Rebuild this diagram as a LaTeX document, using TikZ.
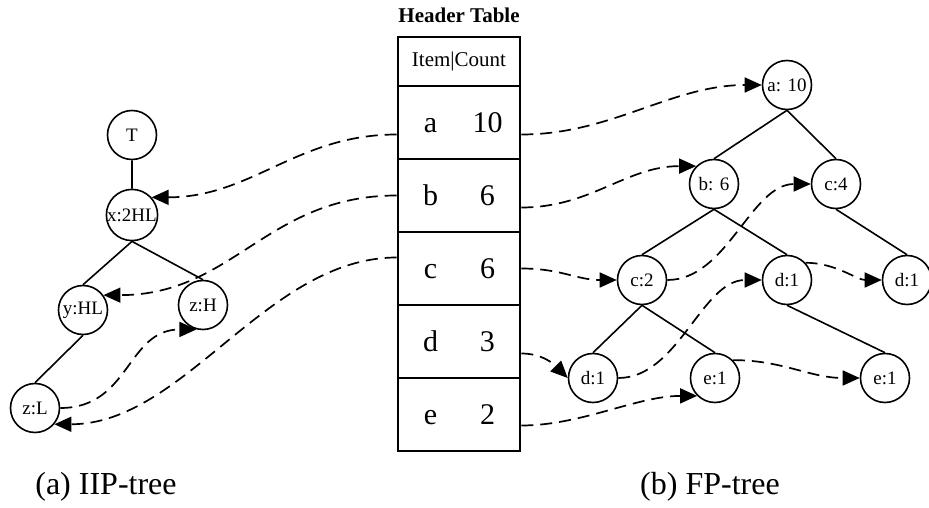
\documentclass[tikz,border=0pt]{standalone}
\usepackage{fontspec}
\setmainfont{Liberation Serif}
\usetikzlibrary{arrows.meta,calc}
\newcommand\htrow[2]{\makebox[20pt]{#1}\hspace{37pt}\makebox[20pt]{#2}\hspace{11pt}}
\begin{document}
\begin{tikzpicture}[x=1pt,y=-1pt,
        knot/.style={circle,draw,line width=1.6pt,minimum size=49pt,inner sep=0pt,font=\fontsize{19}{19}\selectfont},
        cell/.style={rectangle,draw,line width=2.6pt,minimum width=122pt,minimum height=73pt,inner sep=0pt,font=\fontsize{30}{30}\selectfont},
        link/.style={line width=1.7pt,dash pattern=on 12pt off 7pt,-{Triangle[length=17pt,width=15pt]}}]
        \useasboundingbox (0,0) rectangle (929,508);
        % header table
        \node[font=\bfseries\fontsize{21}{21}\selectfont] (title) at (459,15) {Header Table};
        \node[cell,minimum height=49pt,font=\fontsize{21}{21}\selectfont] (ht) at (459,61.5) {Item|Count};
        \node[cell] (ra) at (459,122.5) {\htrow{a}{10}};
        \node[cell] (rb) at (459,195.5) {\htrow{b}{6}};
        \node[cell] (rc) at (459,268.5) {\htrow{c}{6}};
        \node[cell] (rd) at (459,341.5) {\htrow{d}{3}};
        \node[cell] (re) at (459,414.5) {\htrow{e}{2}};
        % IIP-tree
        \node[knot] (T) at (132,135) {T};
        \node[knot] (x) at (132,215) {x:2HL};
        \node[knot] (yhl) at (83,310) {y:HL};
        \node[knot] (zh) at (203,305) {z:H};
        \node[knot] (zl) at (35,408) {z:L};
        \draw[line width=1.6pt] (T) -- (x) (x.south) -- (yhl.north) (x.south) -- (zh.north) (yhl.south) -- (zl.north);
        % FP-tree
        \node[knot] (a10) at (787,85) {a: 10};
        \node[knot] (b6) at (714,184) {b: 6};
        \node[knot] (c4) at (836,184) {c:4};
        \node[knot] (c2) at (642,280) {c:2};
        \node[knot] (d1m) at (787,280) {d:1};
        \node[knot] (d1r) at (907,280) {d:1};
        \node[knot] (d1l) at (593,378) {d:1};
        \node[knot] (e1m) at (715,378) {e:1};
        \node[knot] (e1r) at (885,378) {e:1};
        \draw[line width=1.6pt] (a10.south) -- (b6.north) (a10.south) -- (c4.north) (b6.south) -- (c2.north) (b6.south) -- (d1m.north)
            (c4.south) -- (d1r.north) (c2.south) -- (d1l.north) (c2.south) -- (e1m.north) (d1m.south) -- (e1r.north);
        % node links
        \draw[link] ($(ra.west)+(0,12)$) .. controls +(-100,0) and +(100,0) .. (x.42);
        \draw[link] (rb.west) .. controls +(-130,0) and +(130,0) .. (yhl.36);
        \draw[link] ($(rc.west)+(0,-11)$) .. controls +(-130,0) and +(130,0) .. (zl.-40);
        \draw[link] (zl.east) .. controls +(70,0) and +(-70,0) .. (zh.-105);
        \draw[link] ($(ra.east)+(0,12)$) .. controls +(90,0) and +(-90,0) .. (a10.west);
        \draw[link] ($(rb.east)+(0,12)$) .. controls +(70,0) and +(-70,0) .. (b6.135);
        \draw[link] (rc.east) .. controls +(40,0) and +(-40,0) .. (c2.west);
        \draw[link] ($(rd.east)+(0,12)$) .. controls +(20,0) and +(-15,-15) .. (d1l.west);
        \draw[link] ($(re.east)+(0,11)$) .. controls +(60,0) and +(-60,0) .. (e1m.225);
        \draw[link] (c2.east) .. controls +(60,0) and +(-60,0) .. (c4.west);
        \draw[link] (d1l.east) .. controls +(60,0) and +(-60,0) .. (d1m.west);
        \draw[link] (d1m.43) .. controls +(30,0) and +(-25,0) .. (d1r.west);
        \draw[link] (e1m.45) .. controls +(50,0) and +(-50,0) .. (e1r.west);
        % captions
        \node[font=\fontsize{32}{32}\selectfont] (capa) at (106,487) {(a) IIP-tree};
        \node[font=\fontsize{32}{32}\selectfont] (capb) at (710,487) {(b) FP-tree};
\end{tikzpicture}
\end{document}
